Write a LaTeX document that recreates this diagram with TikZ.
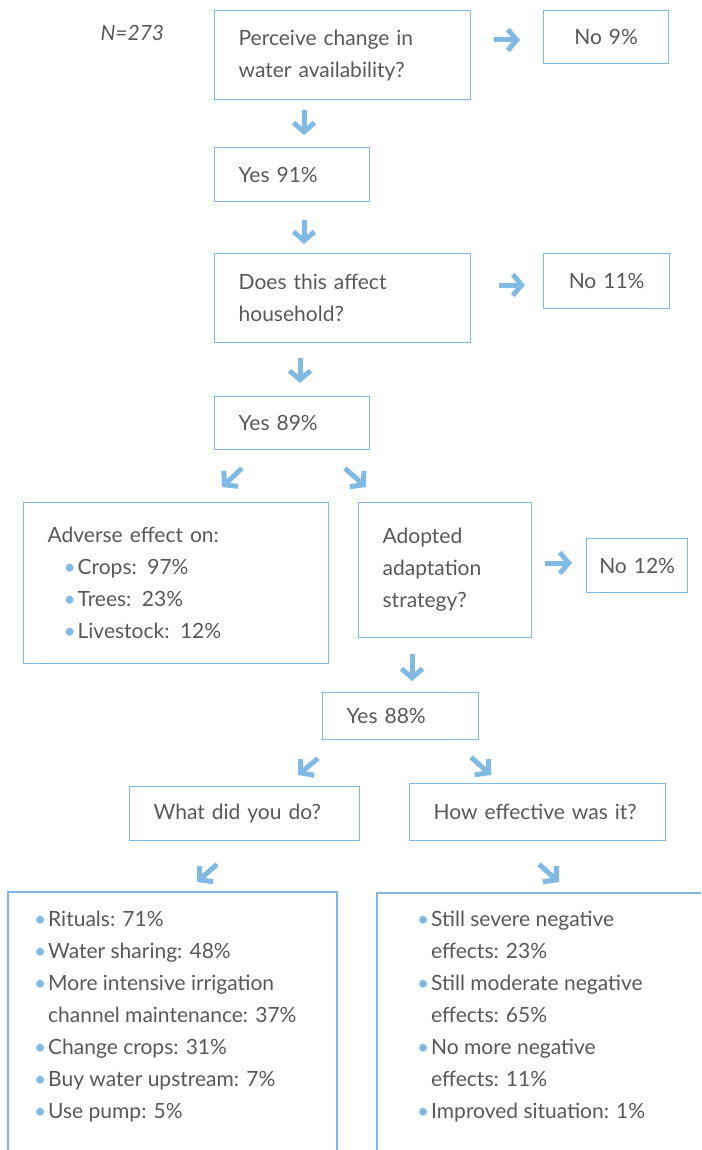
\documentclass[tikz,border=0pt]{standalone}
\usepackage{fontspec}
\setmainfont{Lato}
\usetikzlibrary{positioning,calc,arrows.meta}

\definecolor{boxblue}{RGB}{128,186,228}
\definecolor{txtgrey}{RGB}{88,88,88}
\newcommand{\bul}{\makebox[14pt][l]{\textcolor{boxblue}{\textbullet}}}

\begin{document}
\begin{tikzpicture}[x=1pt,y=-1pt,
    every node/.style={font=\fontsize{21}{32}\selectfont,text=txtgrey},
    box/.style={draw=boxblue,line width=1.3pt,anchor=north west,
        inner xsep=24pt,inner ysep=0pt,align=left},
    nobox/.style={box,inner xsep=0pt,align=center},
    list/.style={anchor=north west,inner sep=0pt,align=left},
    frame/.style={draw=boxblue,line width=1.3pt},
    flow/.style={draw=boxblue,line width=5pt,-{Straight Barb[length=9pt,width=21pt]}}]
    \useasboundingbox (0,0) rectangle (701,1150);
    %
    \node[anchor=base west] (total) at (97,41) {\itshape N=273};
    \node[box,text width=208pt,minimum height=89pt] (b1) at (214,10)
        {Perceive change in\\water availability?};
    \node[nobox,text width=125pt,minimum height=53pt] (no1) at (543,10) {No 9\%};
    \node[box,text width=107pt,minimum height=54pt] (yes1) at (214,147) {Yes 91\%};
    \node[box,text width=208pt,minimum height=89pt] (b2) at (214,253)
        {Does this affect\\household?};
    \node[nobox,text width=126pt,minimum height=55pt] (no2) at (543,253) {No 11\%};
    \node[box,text width=107pt,minimum height=53pt] (yes2) at (214,396) {Yes 89\%};
    \node[box,text width=257pt,minimum height=161pt] (adv) at (23,502)
        {Adverse effect on:\\
        \hspace*{16pt}\bul Crops: 97\%\\
        \hspace*{16pt}\bul Trees: 23\%\\
        \hspace*{16pt}\bul Livestock: 12\%};
    \node[box,text width=125pt,minimum height=135pt] (adopt) at (358,502)
        {Adopted\\adaptation\\strategy?};
    \node[nobox,text width=101pt,minimum height=54pt] (no3) at (586,538) {No 12\%};
    \node[box,text width=108pt,minimum height=47pt] (yes3) at (322,692) {Yes 88\%};
    \node[box,text width=182pt,minimum height=54pt] (what) at (129,786) {What did you do?};
    \node[box,text width=208pt,minimum height=57pt] (how) at (409,783) {How effective was it?};
    %
    % open boxes at the bottom
    \coordinate (dotl) at (8,892);
    \coordinate (evtl) at (377,893);
    \draw[frame] (8,1150) -- (dotl) -- (337,892) -- (337,1150);
    \draw[frame] (377,1150) -- (evtl) -- (701,893);
    \node[list] (dolist) at (34,911)
        {\bul Rituals: 71\%\\
        \bul Water sharing: 48\%\\
        \bul More intensive irrigation\\
        \hspace*{14pt}channel maintenance: 37\%\\
        \bul Change crops: 31\%\\
        \bul Buy water upstream: 7\%\\
        \bul Use pump: 5\%};
    \node[list] (evlist) at (417,911)
        {\bul Still severe negative\\
        \hspace*{14pt}effects: 23\%\\
        \bul Still moderate negative\\
        \hspace*{14pt}effects: 65\%\\
        \bul No more negative\\
        \hspace*{14pt}effects: 11\%\\
        \bul Improved situation: 1\%};
    %
    \draw[flow] ($(b1.south west)+(90,10)$) -- ($(yes1.north west)+(90,-12)$);
    \draw[flow] ($(yes1.south west)+(90,18)$) -- ($(b2.north west)+(90,-9)$);
    \draw[flow] ($(b2.south west)+(86,15)$) -- ($(yes2.north west)+(86,-13)$);
    \draw[flow] ($(adopt.south west)+(54,16)$) -- ($(yes3.north west)+(90,-11)$);
    \draw[flow] ($(b1.north east)+(23,30)$) -- ($(no1.north west)+(-23,30)$);
    \draw[flow] ($(b2.north east)+(28,32)$) -- ($(no2.north west)+(-18,32)$);
    \draw[flow] ($(adopt.north east)+(13,61)$) -- ($(no3.north west)+(-14,25)$);
    \draw[flow] ($(yes2.south west)+(28,18)$) -- ($(adv.north west)+(199,-15)$);
    \draw[flow] ($(yes2.south west)+(131,18)$) -- ($(adopt.north west)+(8,-15)$);
    \draw[flow] ($(yes3.south west)+(-4,18)$) -- ($(what.north west)+(169,-11)$);
    \draw[flow] ($(yes3.south west)+(149,17)$) -- ($(how.north west)+(82,-8)$);
    \draw[flow] ($(what.south west)+(88,23)$) -- ($(dotl)+(189,-10)$);
    \draw[flow] ($(how.south west)+(130,23)$) -- ($(evtl)+(182,-11)$);
    %
\end{tikzpicture}
\end{document}
